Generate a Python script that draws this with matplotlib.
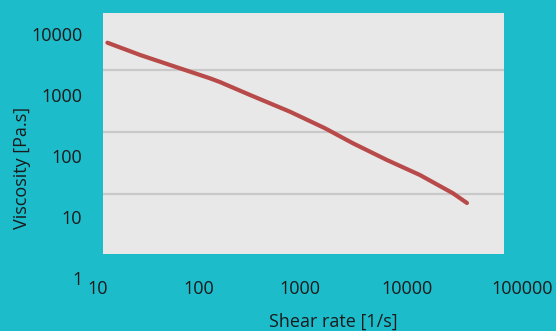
import matplotlib
matplotlib.use("Agg")
import matplotlib.pyplot as plt

# Data
shear_rate = [12.4, 26.1, 64.9, 128, 161, 320, 796, 1770, 3350, 7260, 15400, 32700, 45000]
viscosity = [7760, 4890, 2950, 2030, 1760, 1080, 574, 307, 174, 92.7, 52.6, 26.4, 18.3]
x_tick_values = [10, 100, 1000, 10000, 100000]
x_tick_labels = ["10", "100", "1000", "10000", "100000"]
y_tick_values = [1, 10, 100, 1000, 10000]
y_tick_labels = ["1", "10", "100", "1000", "10000"]
grid_values = [2773, 267, 25.7]

BG = "#1dbccb"
PANEL = "#e8e8e8"
GRID = "#c9c9c9"
LINE = "#b84a4a"
TEXT = "#1a1a1a"
FONT = "Open Sans"
FS = 13

fig = plt.figure(figsize=(5.56, 3.31), dpi=100, facecolor=BG)
ax = fig.add_axes([0.1853, 0.2326, 0.7212, 0.7296])
ax.set_facecolor(PANEL)
ax.set_xscale("log")
ax.set_yscale("log")
ax.set_xlim(10 ** 1.05, 10 ** 5.02)
ax.set_ylim(10 ** 0.426, 10 ** 4.385)
for s in ax.spines.values():
    s.set_visible(False)
ax.set_xticks([])
ax.set_yticks([])
ax.minorticks_off()
ax.tick_params(which="both", length=0, labelleft=False, labelbottom=False)

for g in grid_values:
    ax.axhline(g, color=GRID, lw=1.6, zorder=1)

ax.plot(shear_rate, viscosity, color=LINE, lw=3, solid_capstyle="round",
        solid_joinstyle="round", zorder=3)

# y tick labels (right aligned, the "1" hangs below the panel)
for v, lab in zip(y_tick_values, y_tick_labels):
    ax.text(-0.052, v, lab, transform=ax.get_yaxis_transform(), ha="right",
            va="center", fontsize=FS, color=TEXT, family=FONT, clip_on=False)

# x tick labels
x_nudges = [0, 0, 0, 6, 20]
for v, lab, dx in zip(x_tick_values, x_tick_labels, x_nudges):
    ax.annotate(lab, (v, -0.145), xycoords=ax.get_xaxis_transform(),
                xytext=(dx, 0), textcoords="offset pixels", ha="center",
                va="center", fontsize=FS, color=TEXT, family=FONT,
                annotation_clip=False)

fig.text(333 / 556, 1 - 322 / 331, "Shear rate [1/s]", ha="center", va="center",
         fontsize=FS, color=TEXT, family=FONT)
fig.text(22 / 556, 1 - 168 / 331, "Viscosity [Pa.s]", ha="center", va="center",
         rotation=90, fontsize=FS, color=TEXT, family=FONT)

fig.savefig("out.png", dpi=100, facecolor=BG)
